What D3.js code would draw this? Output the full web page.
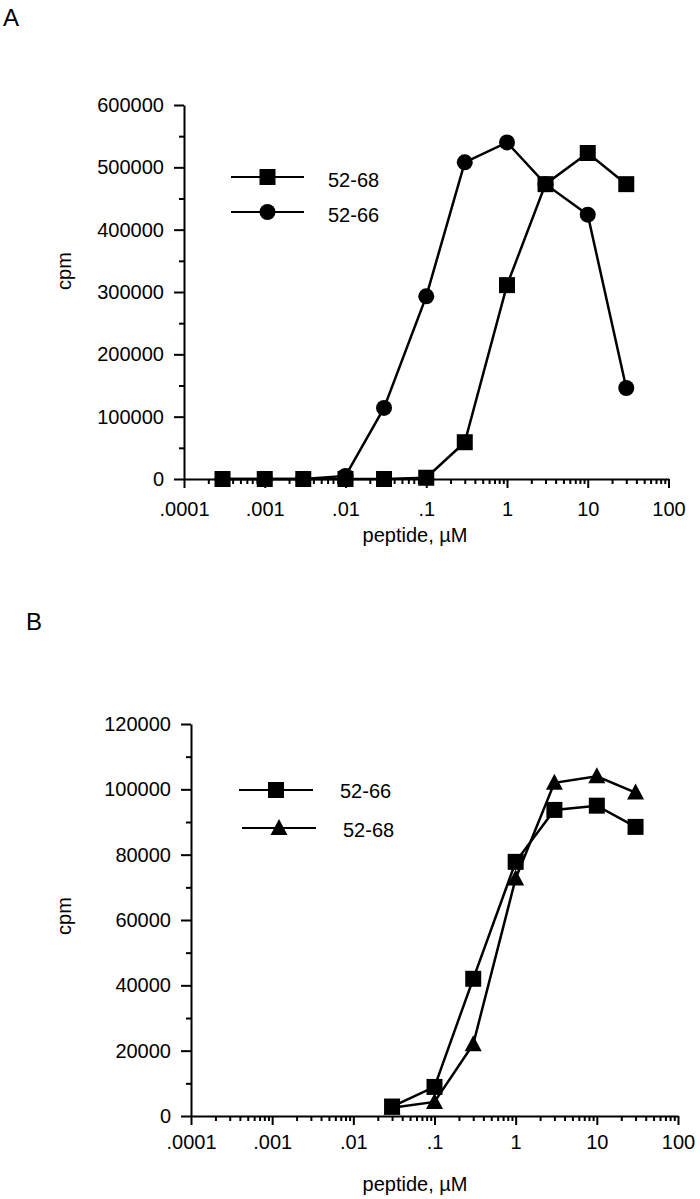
<!DOCTYPE html>
<html>
<head>
<meta charset="utf-8">
<script src="https://d3js.org/d3.v7.min.js"></script>
<style>
body { margin: 0; background: #fff; }
svg { display: block; }
.axis path, .axis line { stroke: #000; stroke-width: 2; }
.axis text { font-family: "Liberation Sans", Arial, sans-serif; font-size: 20px; fill: #000; }
.lbl { font-family: "Liberation Sans", Arial, sans-serif; font-size: 20px; fill: #000; }
.series { fill: none; stroke: #000; stroke-width: 2.5; }
</style>
</head>
<body>
<div id="chart-area"></div>
<script>

// Data: peptide dose (uM) and counts
var doseA = [0.0003, 0.001, 0.003, 0.01, 0.03, 0.1, 0.3, 1, 3, 10, 30];
var cpmA5268 = [0, 0, 0, 0, 0, 2000, 59000, 311000, 473000, 523000, 473000];
var cpmA5266 = [0, 0, 0, 5000, 114000, 293000, 508000, 540000, 473000, 424000, 146000];

var doseB = [0.03, 0.1, 0.3, 1, 3, 10, 30];
var cpmB5266 = [2900, 8900, 42000, 77800, 93700, 95000, 88500];
var cpmB5268 = [2500, 4300, 22000, 72700, 102000, 104000, 99000];

// Tick labels
var xTicks = [0.0001, 0.001, 0.01, 0.1, 1, 10, 100];
var xTickLabels = [".0001", ".001", ".01", ".1", "1", "10", "100"];
var yTicksA = [0, 100000, 200000, 300000, 400000, 500000, 600000];
var yTicksB = [0, 20000, 40000, 60000, 80000, 100000, 120000];

var svg = d3.select("#chart-area").append("svg")
    .attr("width", 700)
    .attr("height", 1199);

// marker shapes
function markerPath(shape) {
    if (shape == "square") return "M-8,-8H8V8H-8Z";
    if (shape == "triangle") return "M0,-9L8.5,7H-8.5Z";
    return d3.symbol().type(d3.symbolCircle).size(Math.PI * 64)();
}

// log minor ticks 2..9 within each decade
var xMinor = [];
for (var e = -4; e < 2; e++) {
    for (var k = 2; k <= 9; k++) xMinor.push(k * Math.pow(10, e));
}

function drawPanel(p) {
    var x = d3.scaleLog().domain([0.0001, 100]).range([p.left, p.right]);
    var y = d3.scaleLinear().domain([0, p.ymax]).range([p.bottom, p.top]);

    var yMinor = d3.range(p.ystep / 2, p.ymax, p.ystep);

    // x axis
    svg.append("g")
        .attr("class", "axis")
        .attr("transform", "translate(0," + p.bottom + ")")
        .call(d3.axisBottom(x).tickValues(xMinor).tickSize(5).tickFormat("").tickSizeOuter(0))
        .select(".domain").remove();
    var gx = svg.append("g")
        .attr("class", "axis")
        .attr("transform", "translate(0," + p.bottom + ")")
        .call(d3.axisBottom(x).tickValues(xTicks).tickSize(9).tickPadding(p.xpad).tickSizeOuter(0)
            .tickFormat(function(d, i) { return xTickLabels[i]; }));
    gx.attr("font-family", null).attr("font-size", null);

    // y axis
    svg.append("g")
        .attr("class", "axis")
        .attr("transform", "translate(" + p.left + ",0)")
        .call(d3.axisLeft(y).tickValues(yMinor).tickSize(5).tickFormat("").tickSizeOuter(0))
        .select(".domain").remove();
    var gy = svg.append("g")
        .attr("class", "axis")
        .attr("transform", "translate(" + p.left + ",0)")
        .call(d3.axisLeft(y).tickValues(p.yticks).tickSize(10).tickPadding(10).tickSizeOuter(0)
            .tickFormat(d3.format("d")));
    gy.attr("font-family", null).attr("font-size", null);

    // axis titles
    svg.append("text")
        .attr("class", "lbl")
        .attr("text-anchor", "middle")
        .attr("x", 415)
        .attr("y", p.bottom + p.xlabelOffset)
        .text("peptide, \u00b5M");

    svg.append("text")
        .attr("class", "lbl")
        .attr("text-anchor", "middle")
        .attr("transform", "translate(" + 71 + "," + p.cpmY + ") rotate(-90)")
        .text("cpm");

    // panel letter
    svg.append("text")
        .attr("class", "lbl")
        .style("font-size", "24px")
        .attr("x", p.letterX)
        .attr("y", p.letterY)
        .text(p.letter);

    var line = d3.line()
        .x(function(d) { return x(d.dose); })
        .y(function(d) { return y(d.cpm); });

    p.series.forEach(function(s) {
        var pts = s.dose.map(function(d, i) { return {dose: d, cpm: s.values[i]}; });
        svg.append("path")
            .attr("class", "series")
            .attr("d", line(pts));
        svg.selectAll(null)
            .data(pts)
            .enter().append("path")
            .attr("d", markerPath(s.shape))
            .attr("fill", "#000")
            .attr("transform", function(d) {
                return "translate(" + x(d.dose) + "," + y(d.cpm) + ")";
            });
    });

    // legend
    p.legend.forEach(function(l) {
        svg.append("line")
            .attr("x1", l.x1).attr("x2", l.x2)
            .attr("y1", l.y).attr("y2", l.y)
            .attr("stroke", "#000")
            .attr("stroke-width", 2);
        svg.append("path")
            .attr("d", markerPath(l.shape))
            .attr("fill", "#000")
            .attr("transform", "translate(" + ((l.x1 + l.x2) / 2) + "," + l.y + ")");
        svg.append("text")
            .attr("class", "lbl")
            .attr("x", l.tx)
            .attr("y", l.ty)
            .text(l.name);
    });
}

drawPanel({
    letter: "A", letterX: 3, letterY: 26,
    left: 184, right: 668.5, top: 105, bottom: 479,
    ymax: 600000, ystep: 100000, yticks: yTicksA,
    xpad: 14, xlabelOffset: 63, cpmY: 271,
    series: [
        {dose: doseA, values: cpmA5266, shape: "circle"},
        {dose: doseA, values: cpmA5268, shape: "square"}
    ],
    legend: [
        {name: "52-68", shape: "square", x1: 231, x2: 304, y: 177, tx: 328, ty: 187},
        {name: "52-66", shape: "circle", x1: 231, x2: 304, y: 212, tx: 328, ty: 222}
    ]
});

drawPanel({
    letter: "B", letterX: 26, letterY: 630,
    left: 191, right: 678, top: 724, bottom: 1116,
    ymax: 120000, ystep: 20000, yticks: yTicksB,
    xpad: 10, xlabelOffset: 75, cpmY: 916,
    series: [
        {dose: doseB, values: cpmB5268, shape: "triangle"},
        {dose: doseB, values: cpmB5266, shape: "square"}
    ],
    legend: [
        {name: "52-66", shape: "square", x1: 239, x2: 313, y: 790, tx: 340, ty: 798},
        {name: "52-68", shape: "triangle", x1: 242, x2: 316, y: 828, tx: 343, ty: 837}
    ]
});

</script>
</body>
</html>
